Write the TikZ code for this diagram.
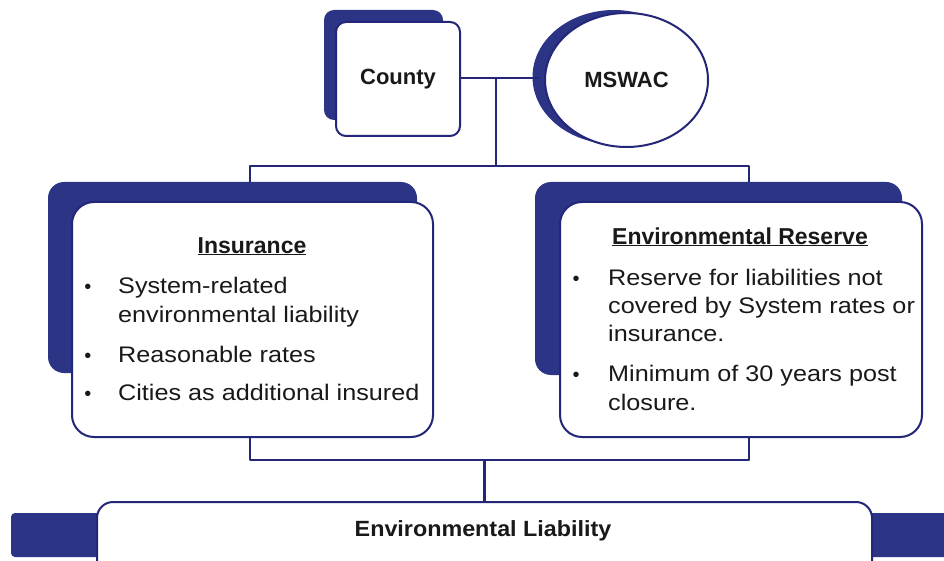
\documentclass[tikz,border=0pt]{standalone}
\usepackage{fontspec}
\setmainfont{Liberation Sans}
\newfontfamily\bodyf{Liberation Sans}[FakeStretch=1.12]
\newfontfamily\headf{Liberation Sans}[FakeStretch=1.0]
\newfontfamily\footf{Liberation Sans}[FakeStretch=1.06]
\usetikzlibrary{shapes.geometric,calc}
\definecolor{navy}{RGB}{36,38,120}
\definecolor{shade}{RGB}{44,52,134}
\begin{document}
\begin{tikzpicture}[x=1pt,y=-1pt,line join=round,
  link/.style={draw=navy,line width=2.6pt},
  shadowbox/.style={fill=shade,rounded corners=#1,inner sep=0pt,outer sep=0pt},
  shadowbox/.default=14pt,
  whitebox/.style={fill=white,draw=navy,line width=2pt,rounded corners=#1,inner sep=0pt,outer sep=0pt},
  whitebox/.default=20pt,
  body/.style={anchor=base west,inner sep=0pt,font=\fontsize{22.5}{27}\selectfont\bodyf,text=black!90},
  bul/.style={anchor=base,inner sep=0pt,font=\fontsize{20}{24}\selectfont,text=black!90},
  title/.style={anchor=base,inner sep=0pt,font=\fontsize{23}{27}\selectfont\headf\bfseries,text=black!90},
  lbl/.style={font=\fontsize{22}{26}\selectfont\headf\bfseries,text=black!90}]
\useasboundingbox (0,0) rectangle (944,561);
\clip (0,0) rectangle (944,561);
\fill[white] (0,0) rectangle (944,561);

% shapes are placed first as invisible references via named nodes
% --- top level ---
\node[shadowbox=10pt,minimum width=119pt,minimum height=110pt] (cshadow) at (383.5,65) {};
\node[ellipse,fill=shade,inner sep=0pt,minimum width=163pt,minimum height=134pt] (mshadow) at (614,77) {};

% connectors (drawn before the boxes, which cover their ends)
\path (336,22) rectangle (460,136);
\coordinate (cE) at (460,78);
\coordinate (mW) at (540,78);
\coordinate (j1) at ($(cE)!0.45!(mW)$);
\coordinate (tl) at (250,166);
\coordinate (tr) at (749,166);
\coordinate (bl) at (250,460);
\coordinate (br) at (749,460);

\node[shadowbox=16pt,minimum width=369pt,minimum height=191pt] (lshadow) at (232.5,277.5) {};
\node[shadowbox=16pt,minimum width=367pt,minimum height=193pt] (rshadow) at (718.5,278.5) {};
\node[shadowbox=4pt,minimum width=949pt,minimum height=44pt] (bshadow) at (485.5,535) {};

\draw[link] (cE) -- (mW);
\draw[link] (j1) -- (j1 |- tl);
\draw[link] (tl |- lshadow.north) -- (tl) -- (tr) -- (tr |- rshadow.north);

\node[whitebox=10pt,minimum width=124pt,minimum height=114pt,lbl] (county) at (398,79) {County};
\node[ellipse,fill=white,draw=navy,line width=2pt,inner sep=0pt,minimum width=163pt,minimum height=134pt,lbl] (mswac) at (626.5,80) {MSWAC};

\node[whitebox=22pt,minimum width=361pt,minimum height=235pt] (lbox) at (252.5,319.5) {};
\node[whitebox=22pt,minimum width=362pt,minimum height=235pt] (rbox) at (741,319.5) {};
\node[whitebox=16pt,minimum width=775pt,minimum height=78pt] (bbox) at (484.5,541) {};

\draw[link] (lbox.south -| bl) -- (bl) -- (br) -- (rbox.south -| br);
\draw[link] (bbox.north |- bl) -- (bbox.north);

% --- left box text ---
\node[title] (ltitle) at (252,253) {\underline{Insurance}};
\node[bul] (lb1) at (88,293) {•};
\node[body] (l1) at (118,293) {System-related};
\node[body] (l2) at (118,322) {environmental liability};
\node[bul] (lb2) at (88,362) {•};
\node[body] (l3) at (118,362) {Reasonable rates};
\node[bul] (lb3) at (88,400) {•};
\node[body] (l4) at (118,400) {Cities as additional insured};

% --- right box text ---
\node[title] (rtitle) at (740,244) {\underline{Environmental Reserve}};
\node[bul] (rb1) at (576,285) {•};
\node[body] (r1) at (608,285) {Reserve for liabilities not};
\node[body] (r2) at (608,313) {covered by System rates or};
\node[body] (r3) at (608,341) {insurance.};
\node[bul] (rb2) at (576,381) {•};
\node[body] (r4) at (608,381) {Minimum of 30 years post};
\node[body] (r5) at (608,410) {closure.};

% --- bottom ---
\node[anchor=base,inner sep=0pt,font=\fontsize{22}{26}\selectfont\footf\bfseries,text=black!90] (btext) at (483,536) {Environmental Liability};
\end{tikzpicture}
\end{document}
